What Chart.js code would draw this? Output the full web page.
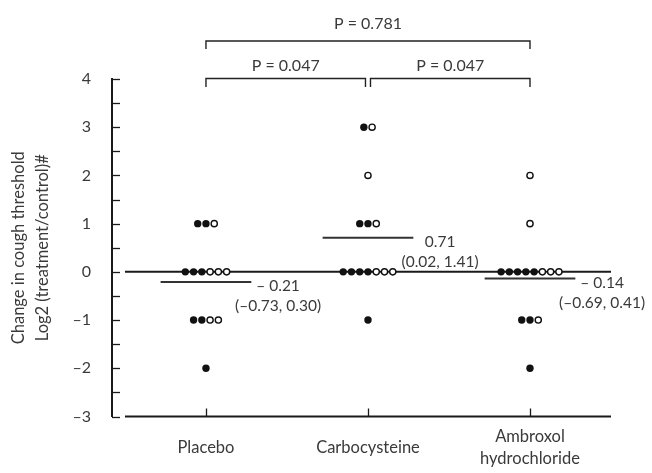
<!DOCTYPE html>
<html>
<head>
<meta charset="utf-8">
<script src="https://cdn.jsdelivr.net/npm/chart.js@4/dist/chart.umd.min.js"></script>
<style>
  html, body { margin: 0; padding: 0; background: #fff; }
  #wrap { width: 652px; height: 473px; }
</style>
</head>
<body>
<div id="wrap"><canvas id="c" width="652" height="473"></canvas></div>
<script>
// ---- data ----
const categories = ['Placebo', 'Carbocysteine', ['Ambroxol', 'hydrochloride']];
const rowValues = [3, 2, 1, 0, -1, -2];           // response levels (log2 change)
const placeboFilled  = [0, 0, 2, 3, 2, 1];
const placeboOpen    = [0, 0, 1, 3, 2, 0];
const carboFilled    = [1, 0, 2, 4, 1, 0];
const carboOpen      = [1, 1, 1, 3, 0, 0];
const ambroxolFilled = [0, 0, 0, 5, 2, 1];
const ambroxolOpen   = [0, 1, 1, 3, 1, 0];
const means = [-0.21, 0.71, -0.14];
const ciLow = [-0.73, 0.02, -0.69];
const ciHigh = [0.30, 1.41, 0.41];
const pLabels = ['0.781', '0.047', '0.047'];
const pFrom = [0, 0, 1];
const pTo = [2, 1, 2];
const pLevel = [1, 0, 0];
const yTicks = [-3, -2, -1, 0, 1, 2, 3, 4];
const axisTitle = ['Change in cough threshold', 'Log2 (treatment/control)#'];

// ---- build point datasets (dot-plot layout: filled first, then open, centred on group) ----
const DOT_STEP = 0.051;
const filledByGroup = [placeboFilled, carboFilled, ambroxolFilled];
const openByGroup = [placeboOpen, carboOpen, ambroxolOpen];
const filledPts = [], openPts = [];
for (let g = 0; g < 3; g++) {
  rowValues.forEach((v, r) => {
    const nf = filledByGroup[g][r], no = openByGroup[g][r], n = nf + no;
    for (let j = 0; j < n; j++) {
      const pt = { x: g + 1 + (j - (n - 1) / 2) * DOT_STEP, y: v };
      (j < nf ? filledPts : openPts).push(pt);
    }
  });
}
const MEAN_HALF = 0.28;
const meanSets = means.map((m, g) => ({
  type: 'line',
  data: [{ x: g + 1 - MEAN_HALF, y: m }, { x: g + 1 + MEAN_HALF, y: m }],
  borderColor: '#333', borderWidth: 2, pointRadius: 0, order: 3
}));

const fmt = v => (v < 0 ? '–' : '') + Math.abs(v).toFixed(2);
const FONT = 'Lato, "Open Sans", sans-serif';
const TXT = '#3a3a3a';

const overlay = {
  id: 'overlay',
  beforeDatasetsDraw(chart) {
    const ctx = chart.ctx, xs = chart.scales.x, ys = chart.scales.y;
    ctx.save();
    ctx.strokeStyle = '#1a1a1a';
    ctx.lineWidth = 2;
    // baseline at zero and bottom axis line spanning the x range 0.5 .. 3.5
    [0, ys.min].forEach(v => {
      const y = ys.getPixelForValue(v);
      ctx.beginPath();
      ctx.moveTo(xs.getPixelForValue(0.5), y);
      ctx.lineTo(xs.getPixelForValue(3.5), y);
      ctx.stroke();
    });
    ctx.restore();
  },
  afterDraw(chart) {
    const ctx = chart.ctx, xs = chart.scales.x, ys = chart.scales.y;
    ctx.save();
    ctx.strokeStyle = '#1a1a1a';
    ctx.lineWidth = 1.3;
    // inward y ticks every 0.5
    const ax = ys.right;
    for (let v = ys.min; v <= ys.max + 1e-9; v += 0.5) {
      const y = Math.round(ys.getPixelForValue(v)) + 0.5;
      ctx.beginPath(); ctx.moveTo(ax, y); ctx.lineTo(ax + 8, y); ctx.stroke();
    }
    // inward x ticks at categories
    const by = ys.getPixelForValue(ys.min);
    [1, 2, 3].forEach(v => {
      const x = Math.round(xs.getPixelForValue(v)) + 0.5;
      ctx.beginPath(); ctx.moveTo(x, by); ctx.lineTo(x, by - 8); ctx.stroke();
    });
    // mean and CI labels
    ctx.fillStyle = TXT;
    ctx.font = '15.5px ' + FONT;
    ctx.textAlign = 'center';
    ctx.textBaseline = 'middle';
    means.forEach((m, g) => {
      const cx = xs.getPixelForValue(g + 1 + 0.445);
      const y = ys.getPixelForValue(m);
      const top = m < 0 ? '– ' + Math.abs(m).toFixed(2) : m.toFixed(2);
      ctx.fillText(top, cx, y + 4);
      ctx.fillText('(' + fmt(ciLow[g]) + ', ' + fmt(ciHigh[g]) + ')', cx, y + 24);
    });
    // significance brackets
    const bracketY = [78.5, 41], legLen = [8.5, 8], textY = [66, 24];
    ctx.font = '16px ' + FONT;
    ctx.strokeStyle = '#222';
    ctx.lineWidth = 1.4;
    pLabels.forEach((p, i) => {
      const lv = pLevel[i];
      let x1 = xs.getPixelForValue(pFrom[i] + 1);
      let x2 = xs.getPixelForValue(pTo[i] + 1);
      if (lv === 0) { if (pFrom[i] === 1) x1 += 2.5; if (pTo[i] === 1) x2 -= 2.5; }
      const y = bracketY[lv];
      ctx.beginPath();
      ctx.moveTo(x1, y + legLen[lv]); ctx.lineTo(x1, y); ctx.lineTo(x2, y); ctx.lineTo(x2, y + legLen[lv]);
      ctx.stroke();
      ctx.fillText('P = ' + p, (x1 + x2) / 2, textY[lv]);
    });
    ctx.restore();
  }
};

new Chart(document.getElementById('c'), {
  type: 'scatter',
  data: {
    datasets: [
      { data: filledPts, backgroundColor: '#111', borderColor: '#111', borderWidth: 0, pointRadius: 3.7, order: 1 },
      { data: openPts, backgroundColor: '#fff', borderColor: '#111', borderWidth: 1.4, pointRadius: 3.1, order: 1 },
      ...meanSets
    ]
  },
  options: {
    responsive: false,
    animation: false,
    layout: { padding: { top: 79, right: 41, left: 0, bottom: 0 } },
    plugins: { legend: { display: false }, tooltip: { enabled: false } },
    scales: {
      x: {
        type: 'linear', min: 0.42, max: 3.5,
        grid: { display: false, drawTicks: false },
        border: { display: false },
        afterBuildTicks: s => { s.ticks = [1, 2, 3].map(v => ({ value: v })); },
        afterFit: s => { s.height = 473 - 416.5; },
        ticks: {
          callback: v => categories[v - 1],
          color: TXT, font: { family: FONT, size: 16.5, lineHeight: 1.35 }, padding: 20,
          maxRotation: 0, autoSkip: false, crossAlign: 'center'
        }
      },
      y: {
        min: -3, max: 4,
        grid: { display: false, drawTicks: false },
        border: { display: true, color: '#1a1a1a', width: 2 },
        afterBuildTicks: s => { s.ticks = yTicks.map(v => ({ value: v })); },
        afterFit: s => { s.width = 112; },
        ticks: {
          callback: v => (v < 0 ? '–' + Math.abs(v) : String(v)),
          color: TXT, font: { family: FONT, size: 16 }, padding: 21
        },
        title: {
          display: true, text: axisTitle, color: TXT,
          font: { family: FONT, size: 16.5, lineHeight: 1.5 }, padding: { top: 6, bottom: 0 }
        }
      }
    }
  },
  plugins: [overlay]
});
</script>
</body>
</html>
